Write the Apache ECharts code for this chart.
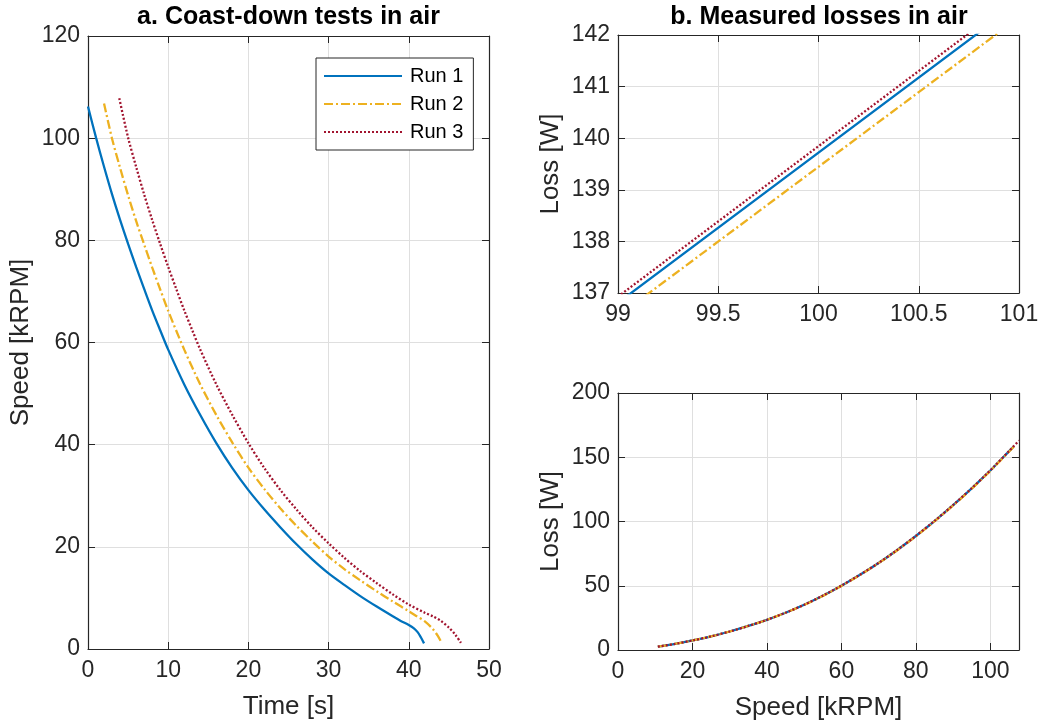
<!DOCTYPE html>
<html>
<head>
<meta charset="utf-8">
<script src="https://cdn.jsdelivr.net/npm/echarts@6/dist/echarts.min.js"></script>
<style>
html,body{margin:0;padding:0;background:#fff;}
#chart{width:1043px;height:725px;}
</style>
</head>
<body>
<div id="chart"></div>
<script>
// ---- Panel a: coast-down tests (time [s] vs speed [kRPM]) ----
const run1Time  = [0,1,2,3,4,5,6,7,8,9,10,12,14,16,18,20,22,24,26,28,30,32,34,36,38,39,40,40.6,41.1,41.5,41.9];
const run1Speed = [106.2,100.1,94.4,89.0,84.0,79.3,74.8,70.5,66.3,62.4,58.6,51.8,45.8,40.3,35.4,31.1,27.3,23.8,20.5,17.5,14.8,12.5,10.3,8.3,6.4,5.5,4.7,4.1,3.3,2.3,1.1];

const run2Time  = [2.0,3,4,5,6,7,8,9,10,12,14,16,18,20,22,24,26,28,30,32,34,36,38,40,41,42,43,43.6,44.1];
const run2Speed = [106.8,99.9,94.2,88.8,83.8,79.2,74.7,70.4,66.2,58.6,51.8,45.8,40.4,35.5,31.3,27.5,24.1,21.0,18.1,15.6,13.4,11.3,9.3,7.4,6.4,5.4,3.9,2.6,1.2];

const run3Time  = [3.9,5,6,7,8,9,10,11,12,13,14,16,18,20,22,24,26,28,30,32,34,36,38,40,42,43,44,45,45.8,46.5];
const run3Speed = [107.8,100.1,94.4,89.0,84.0,79.3,74.8,70.5,66.3,62.4,58.6,51.8,45.8,40.3,35.4,31.1,27.3,23.8,20.7,17.8,15.2,12.9,10.7,8.7,7.1,6.4,5.5,4.2,2.8,1.2];

// ---- Panel b: measured losses (speed [kRPM] vs loss [W]) ----
const run1LossSpeed = [10.7,15,20,25,30,35,40,45,50,55,60,65,70,75,80,85,90,95,99,101,105,106.2];
const run1Loss      = [2.6,4.6,7.4,10.6,14.4,18.7,23.5,29.0,35.2,42.2,50.0,58.5,67.7,77.8,88.7,100.3,112.7,125.8,136.81,142.63,154.6,158.2];

const run2LossSpeed = [10.7,15,20,25,30,35,40,45,50,55,60,65,70,75,80,85,90,95,99,101,105,106.8];
const run2Loss      = [2.6,4.6,7.4,10.6,14.4,18.7,23.5,29.0,35.1,42.1,49.9,58.4,67.6,77.6,88.5,100.1,112.4,125.5,136.55,142.34,154.3,159.8];

const run3LossSpeed = [10.7,15,20,25,30,35,40,45,50,55,60,65,70,75,80,85,90,95,99,101,105,107.7];
const run3Loss      = [2.6,4.6,7.4,10.6,14.4,18.7,23.5,29.0,35.2,42.3,50.1,58.6,67.8,77.9,88.8,100.4,112.8,125.9,136.93,142.76,154.7,163.0];

// ---- Axis ranges / ticks ----
const timeTicks   = [0,10,20,30,40,50];
const speedTicks  = [0,20,40,60,80,100,120];
const zoomXTicks  = [99,99.5,100,100.5,101];
const zoomYTicks  = [137,138,139,140,141,142];
const lossXTicks  = [0,20,40,60,80,100];
const lossXMax    = 107.7;
const lossYTicks  = [0,50,100,150,200];

const runNames  = ['Run 1','Run 2','Run 3'];
const runColors = ['#0072BD','#EDB120','#A2142F'];
const runTypes  = ['solid',[9,3,2,3],[2,2]];
const runWidths = [2.3,2.3,2.3];

const FONT = 'Liberation Sans, Arial, Helvetica, sans-serif';
const TXT = '#262626';
const GRIDC = '#dfdfdf';

function zip(a,b){ return a.map((v,i)=>[v,b[i]]); }

function mainX(grid, ticks, max, name){
  const step = ticks[1]-ticks[0];
  return {
    gridIndex:grid, type:'value', min:ticks[0], max:max, interval:step,
    name:name||'', nameLocation:'middle', nameGap:45,
    nameTextStyle:{fontSize:26,color:TXT,fontFamily:FONT},
    axisLine:{show:true,onZero:false,lineStyle:{color:TXT,width:1.2}},
    axisTick:{show:true,inside:true,length:7,lineStyle:{color:TXT}},
    axisLabel:{show:true,fontSize:23,color:TXT,fontFamily:FONT,margin:10,
      formatter:function(v){ return ticks.some(t=>Math.abs(t-v)<1e-9) ? String(v) : ''; }},
    splitLine:{show:true,lineStyle:{color:GRIDC,width:1}}
  };
}
function mainY(grid, ticks, name){
  const step = ticks[1]-ticks[0];
  return {
    gridIndex:grid, type:'value', min:ticks[0], max:ticks[ticks.length-1], interval:step,
    name:name||'', nameLocation:'middle', nameGap:54,
    nameTextStyle:{fontSize:26,color:TXT,fontFamily:FONT},
    axisLine:{show:true,onZero:false,lineStyle:{color:TXT,width:1.2}},
    axisTick:{show:true,inside:true,length:7,lineStyle:{color:TXT}},
    axisLabel:{show:true,fontSize:23,color:TXT,fontFamily:FONT,margin:8},
    splitLine:{show:true,lineStyle:{color:GRIDC,width:1}}
  };
}
function boxAxis(base, pos){
  return Object.assign({}, base, {
    position:pos, name:'', axisLabel:{show:false}, splitLine:{show:false}
  });
}

const xA0 = mainX(0, timeTicks, 50, 'Time [s]');
const xA1 = mainX(1, zoomXTicks, 101, '');
const xA2 = mainX(2, lossXTicks, lossXMax, 'Speed [kRPM]');
const yA0 = mainY(0, speedTicks, 'Speed [kRPM]');
const yA1 = mainY(1, zoomYTicks, 'Loss [W]');
const yA2 = mainY(2, lossYTicks, 'Loss [W]');

const timeData = [zip(run1Time,run1Speed), zip(run2Time,run2Speed), zip(run3Time,run3Speed)];
const lossData = [zip(run1LossSpeed,run1Loss), zip(run2LossSpeed,run2Loss), zip(run3LossSpeed,run3Loss)];

function lineSeries(i, data, axisIdx, smooth){
  return {
    type:'line', name:runNames[i], data:data, xAxisIndex:axisIdx, yAxisIndex:axisIdx,
    showSymbol:false, symbol:'none', smooth:smooth, clip:true,
    lineStyle:{color:runColors[i], width:runWidths[i], type:runTypes[i]},
    itemStyle:{color:runColors[i]}, emphasis:{disabled:true}
  };
}

const series = [];
for (let i=0;i<3;i++) series.push(lineSeries(i, timeData[i], 0, 0.3));
for (let i=0;i<3;i++) series.push(lineSeries(i, lossData[i], 2, false));
for (let i=0;i<3;i++) series.push(lineSeries(i, lossData[i], 4, 0.3));

const option = {
  animation:false,
  backgroundColor:'#fff',
  textStyle:{fontFamily:FONT},
  title:[
    {text:'a. Coast-down tests in air', left:288.5, top:5, textAlign:'center', padding:0,
     textStyle:{fontSize:25,fontWeight:'bold',color:'#000',fontFamily:FONT}},
    {text:'b. Measured losses in air', left:819, top:5, textAlign:'center', padding:0,
     textStyle:{fontSize:25,fontWeight:'bold',color:'#000',fontFamily:FONT}}
  ],
  legend:{
    data:runNames, orient:'vertical', left:316, top:58,
    itemWidth:78, itemHeight:14, itemGap:8,
    padding:[8,10,8,7], borderColor:TXT, borderWidth:1, borderRadius:0,
    backgroundColor:'#fff',
    itemStyle:{opacity:0, borderWidth:0},
    textStyle:{fontSize:20,color:'#000',fontFamily:FONT,padding:[0,0,0,3]},
    selectedMode:false
  },
  grid:[
    {left:88, top:36, width:401, height:614},
    {left:618, top:35, width:401, height:258},
    {left:618, top:393, width:401, height:257}
  ],
  xAxis:[xA0, boxAxis(xA0,'top'), xA1, boxAxis(xA1,'top'), xA2, boxAxis(xA2,'top')],
  yAxis:[yA0, boxAxis(yA0,'right'), yA1, boxAxis(yA1,'right'), yA2, boxAxis(yA2,'right')],
  series:series
};

const chart = echarts.init(document.getElementById('chart'), null, {renderer:'canvas'});
chart.setOption(option);
</script>
</body>
</html>
